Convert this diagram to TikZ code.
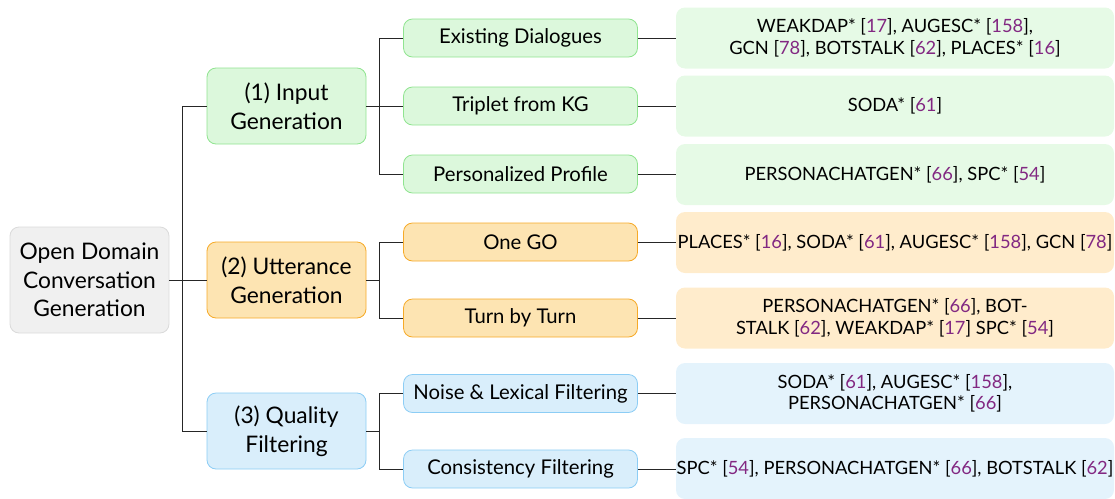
\documentclass[tikz,border=0pt]{standalone}
\usepackage{fontspec}
\setmainfont{Lato}
\definecolor{rootfill}{RGB}{240,240,240}
\definecolor{rootdraw}{RGB}{218,218,218}
\definecolor{gfill}{RGB}{220,248,220}
\definecolor{gdraw}{RGB}{144,228,144}
\definecolor{gleaf}{RGB}{230,250,230}
\definecolor{ofill}{RGB}{253,228,178}
\definecolor{odraw}{RGB}{246,170,40}
\definecolor{oleaf}{RGB}{255,236,204}
\definecolor{bfill}{RGB}{217,238,251}
\definecolor{bdraw}{RGB}{140,205,245}
\definecolor{bleaf}{RGB}{228,243,252}
\definecolor{citec}{RGB}{130,40,130}
\newcommand\cit[1]{[\textcolor{citec}{#1}]}
\newcommand\oneline[1]{\makebox[0pt][c]{#1}}
\tikzset{
  rootbox/.style={draw=rootdraw, fill=rootfill, line width=0.8pt, rounded corners=9pt,
    minimum width=159pt, minimum height=106pt, inner sep=0pt, align=center,
    font=\fontsize{22.8}{28.5}\selectfont},
  catbox/.style={line width=0.8pt, rounded corners=9pt,
    minimum width=159pt, minimum height=76pt, inner sep=0pt, align=center,
    font=\fontsize{22.8}{28.5}\selectfont},
  subbox/.style={line width=0.8pt, rounded corners=9pt,
    minimum width=234pt, minimum height=38pt, inner sep=0pt, align=center,
    font=\fontsize{20.3}{24}\selectfont},
  leafbox/.style={rounded corners=9pt,
    minimum width=438pt, minimum height=61pt, inner sep=0pt, align=center,
    font=\fontsize{18.3}{21.5}\selectfont},
  conn/.style={draw=black!85, line width=1pt},
}
\begin{document}
\begin{tikzpicture}[x=1pt,y=-1pt]
\useasboundingbox (0,0) rectangle (1115,498);
% root
\node[rootbox] (root) at (89.5,280) {Open Domain\\Conversation\\Generation};
% categories
\node[catbox, draw=gdraw, fill=gfill] (c1) at (286.5,106) {(1) Input\\Generation};
\node[catbox, draw=odraw, fill=ofill] (c2) at (286.5,280) {(2) Utterance\\Generation};
\node[catbox, draw=bdraw, fill=bfill] (c3) at (286.5,431) {(3) Quality\\Filtering};
% sub
\node[subbox, draw=gdraw, fill=gfill] (s1) at (520.5,38) {Existing Dialogues};
\node[subbox, draw=gdraw, fill=gfill] (s2) at (520.5,106) {Triplet from KG};
\node[subbox, draw=gdraw, fill=gfill] (s3) at (520.5,174) {Personalized Profile};
\node[subbox, draw=odraw, fill=ofill] (s4) at (520.5,242) {One GO};
\node[subbox, draw=odraw, fill=ofill] (s5) at (520.5,318) {Turn by Turn};
\node[subbox, draw=bdraw, fill=bfill] (s6) at (520.5,393.5) {Noise \& Lexical Filtering};
\node[subbox, draw=bdraw, fill=bfill] (s7) at (520.5,469) {Consistency Filtering};
% leaves
\node[leafbox, fill=gleaf] (l1) at (895,38) {\oneline{WEAKDAP* \cit{17}, AUGESC* \cit{158},}\\\oneline{GCN \cit{78}, BOTSTALK \cit{62}, PLACES* \cit{16}}};
\node[leafbox, fill=gleaf] (l2) at (895,106) {\oneline{SODA* \cit{61}}};
\node[leafbox, fill=gleaf] (l3) at (895,174.5) {\oneline{PERSONACHATGEN* \cit{66}, SPC* \cit{54}}};
\node[leafbox, fill=oleaf] (l4) at (895,242.5) {\oneline{PLACES* \cit{16}, SODA* \cit{61}, AUGESC* \cit{158}, GCN \cit{78}}};
\node[leafbox, fill=oleaf] (l5) at (895,318) {\oneline{PERSONACHATGEN* \cit{66}, BOT-}\\\oneline{STALK \cit{62}, WEAKDAP* \cit{17} SPC* \cit{54}}};
\node[leafbox, fill=bleaf] (l6) at (895,393.5) {\oneline{SODA* \cit{61}, AUGESC* \cit{158},}\\\oneline{PERSONACHATGEN* \cit{66}}};
\node[leafbox, fill=bleaf] (l7) at (895,468.5) {\oneline{SPC* \cit{54}, PERSONACHATGEN* \cit{66}, BOTSTALK \cit{62}}};
% connectors root -> categories
\coordinate (t0) at (182,280);
\draw[conn] (root.east) -- (t0);
\draw[conn] (t0) |- (c1.west);
\draw[conn] (t0) -- (c2.west);
\draw[conn] (t0) |- (c3.west);
% category 1
\coordinate (t1) at (379,106);
\draw[conn] (c1.east) -- (t1);
\draw[conn] (t1) |- (s1.west);
\draw[conn] (t1) -- (s2.west);
\draw[conn] (t1) |- (s3.west);
% category 2
\coordinate (t2) at (379,280);
\draw[conn] (c2.east) -- (t2);
\draw[conn] (t2) |- (s4.west);
\draw[conn] (t2) |- (s5.west);
% category 3
\coordinate (t3) at (379,431);
\draw[conn] (c3.east) -- (t3);
\draw[conn] (t3) |- (s6.west);
\draw[conn] (t3) |- (s7.west);
% sub -> leaf
\foreach \i in {1,...,7} { \draw[conn] (s\i.east) -- (s\i.east -| l\i.west); }
\end{tikzpicture}
\end{document}
